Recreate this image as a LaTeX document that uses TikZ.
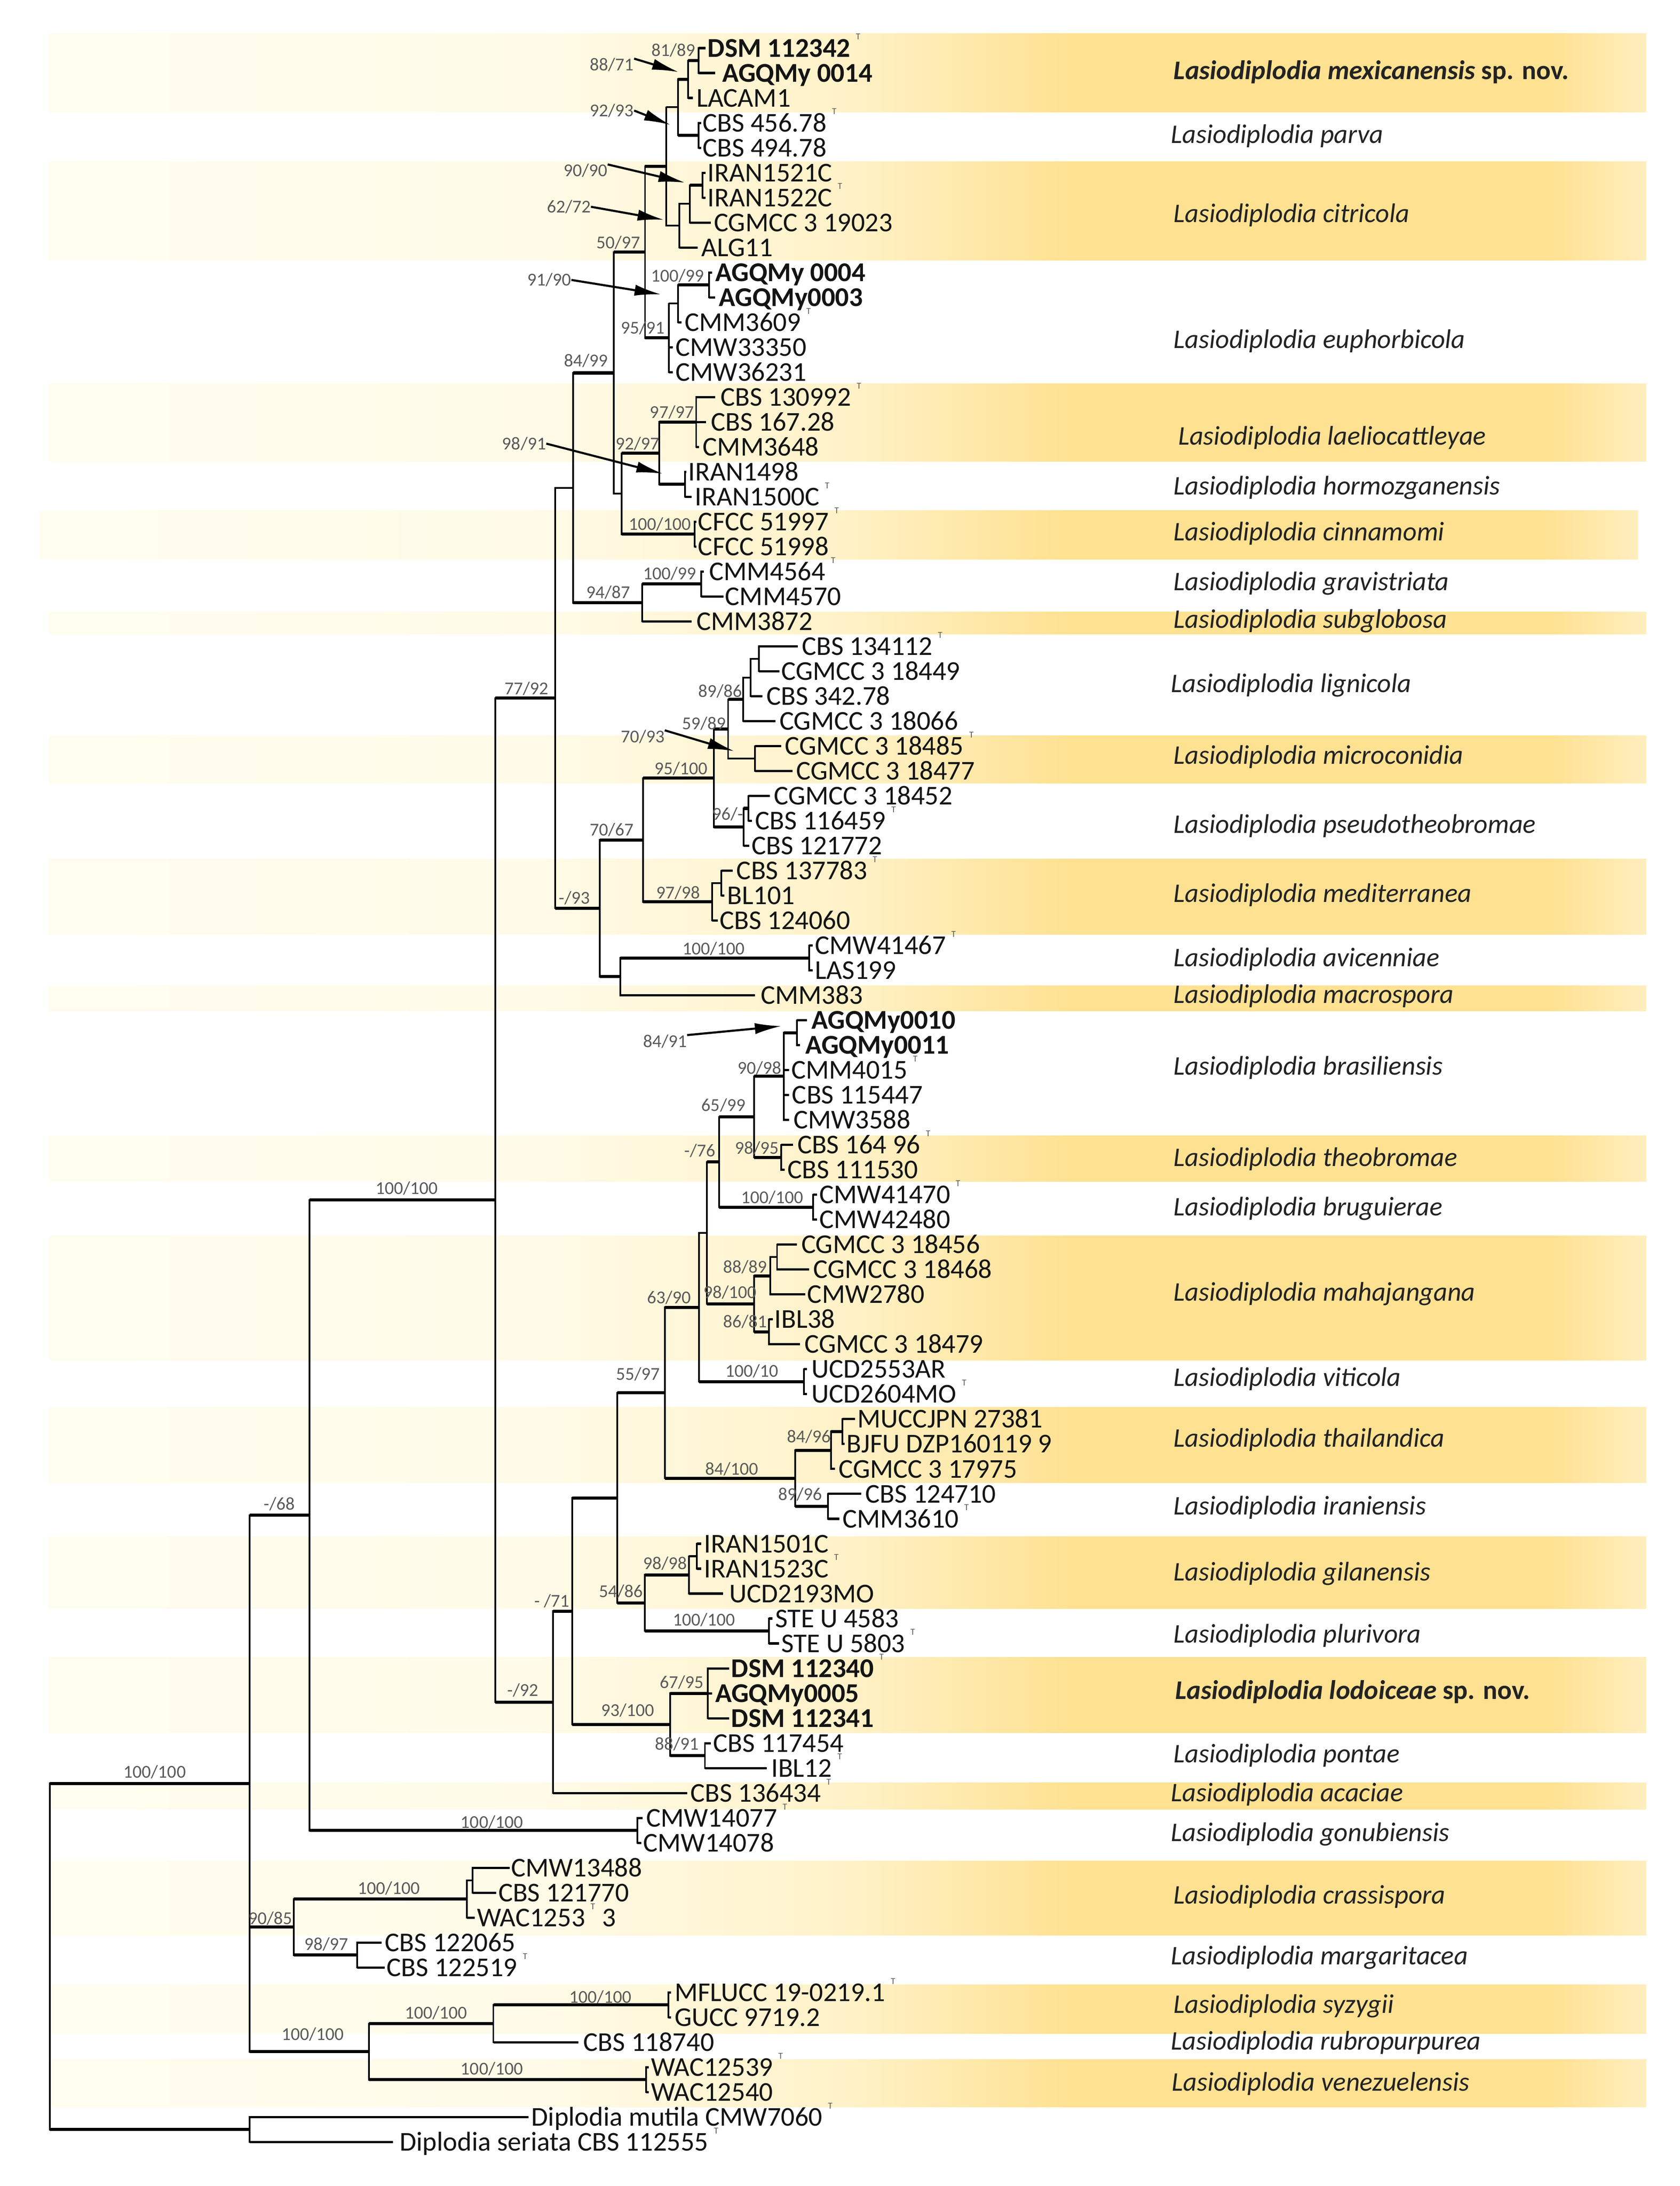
\documentclass[tikz,border=0pt]{standalone}
\usepackage{fontspec}
\setmainfont{Carlito}
\usetikzlibrary{arrows.meta}
\definecolor{leafc}{RGB}{20,20,20}
\definecolor{spcol}{RGB}{35,35,35}
\definecolor{supc}{RGB}{90,90,90}
\definecolor{bpale}{RGB}{255,253,240}
\definecolor{bpale2}{RGB}{255,251,232}
\definecolor{bmid}{RGB}{255,242,200}
\definecolor{bgold}{RGB}{254,225,145}
\definecolor{blight}{RGB}{255,238,190}
\pgfdeclarehorizontalshading{bandsh}{100bp}{color(0bp)=(bpale); color(25bp)=(bpale); color(40bp)=(bpale2); color(50bp)=(bmid); color(57bp)=(bgold); color(72bp)=(bgold); color(75bp)=(blight); color(100bp)=(blight)}
\pgfmathdeclarefunction{rowy}{1}{\pgfmathparse{34.5+17.88*#1}}
\newcommand\Tm{\hspace{4pt}\raisebox{12.3pt}{\fontsize{6.5}{6.5}\selectfont\color{supc}T}}
\newcommand\vb[3]{\draw[vline] (#1 |- #2) -- (#1 |- #3);}
\newcommand\hb[3][hleaf]{\draw[#1] (#2 |- #3) -- (#3);}
\newcommand\leaf[4]{\coordinate (l#1) at (#2,{rowy(#1)}); \node[leaf] (t#1) at (#3,{rowy(#1)}) {#4};}
\newcommand\inode[3]{\coordinate (#1) at (#2,{rowy(#3)});}
\tikzset{
 vline/.style={line width=1.2pt, line cap=rect},
 hleaf/.style={line width=1.6pt},
 hthin/.style={line width=1.3pt},
 hthick/.style={line width=2.2pt},
 leaf/.style={anchor=west, inner sep=0pt, text=leafc, font=\fontsize{19.5}{20}\selectfont, text height=12.6pt, text depth=0pt},
 spc/.style={anchor=west, inner sep=0pt, text=spcol, font=\fontsize{19.3}{20}\selectfont\itshape, text height=12.4pt, text depth=0pt},
 sup/.style={inner sep=0pt, text=supc, font=\fontsize{13}{13}\selectfont, text height=8.5pt, text depth=0pt},
 arr/.style={line width=1.5pt, -{Latex[length=19pt,width=8pt]}},
 band/.style={shading=bandsh}
}
\begin{document}
\begin{tikzpicture}[x={(1pt,0)},y={(0,-1pt)}]
\useasboundingbox (0,0) rectangle (1205,1568);
\fill[white] (0,0) rectangle (1205,1568);
% ---------- bands ----------
\shade[band] (35,23.9) rectangle (1181,80.3);
\shade[band] (35,115.8) rectangle (1181,186.9);
\shade[band] (35,275.1) rectangle (1181,330.9);
\shade[band] (28,366.1) rectangle (1175,401.4);
\shade[band] (35,438.8) rectangle (1181,455);
\shade[band] (35,527.5) rectangle (1181,561.9);
\shade[band] (35,616) rectangle (1181,670.3);
\shade[band] (35,707.1) rectangle (1181,725.2);
\shade[band] (35,814.5) rectangle (1181,847.4);
\shade[band] (35,886.4) rectangle (1181,975.7);
\shade[band] (35,1009.3) rectangle (1181,1063.6);
\shade[band] (35,1102) rectangle (1181,1153.8);
\shade[band] (35,1188.8) rectangle (1181,1243);
\shade[band] (35,1278.6) rectangle (1181,1297.8);
\shade[band] (35,1334.9) rectangle (1181,1388);
\shade[band] (35,1423.6) rectangle (1181,1458.6);
\shade[band] (35,1477.1) rectangle (1181,1511.4);
% ---------- leaves ----------
\leaf{0}{506}{507.5}{\textbf{DSM 112342}\Tm}
\leaf{1}{513}{518}{\textbf{AGQMy 0014}}
\leaf{2}{497}{499.4}{LACAM1}
\leaf{3}{503}{504}{CBS 456.78\Tm}
\leaf{4}{503}{504}{CBS 494.78}
\leaf{5}{506}{507.5}{IRAN1521C}
\leaf{6}{506}{507.5}{IRAN1522C\Tm}
\leaf{7}{509.8}{512}{CGMCC 3 19023}
\leaf{8}{500.6}{503}{ALG11}
\leaf{9}{511}{513}{\textbf{AGQMy 0004}}
\leaf{10}{513}{515.5}{\textbf{AGQMy0003}}
\leaf{11}{489}{491}{CMM3609\Tm}
\leaf{12}{482.5}{484.5}{CMW33350}
\leaf{13}{482.5}{484.5}{CMW36231}
\leaf{14}{513}{516.7}{CBS 130992\Tm}
\leaf{15}{506.5}{509.8}{CBS 167.28}
\leaf{16}{501.5}{504}{CMM3648}
\leaf{17}{492.5}{493.7}{IRAN1498}
\leaf{18}{496}{498.3}{IRAN1500C\Tm}
\leaf{19}{499.5}{500.6}{CFCC 51997\Tm}
\leaf{20}{499.5}{500.6}{CFCC 51998}
\leaf{21}{505}{508.6}{CMM4564\Tm}
\leaf{22}{519}{520}{CMM4570}
\leaf{23}{496}{499.4}{CMM3872}
\leaf{24}{572.4}{575}{CBS 134112\Tm}
\leaf{25}{559}{560.4}{CGMCC 3 18449}
\leaf{26}{547}{549.6}{CBS 342.78}
\leaf{27}{556.3}{559}{CGMCC 3 18066}
\leaf{28}{560.4}{563}{CGMCC 3 18485\Tm}
\leaf{29}{568.4}{571}{CGMCC 3 18477}
\leaf{30}{552.3}{555}{CGMCC 3 18452}
\leaf{31}{539.5}{541.6}{CBS 116459\Tm}
\leaf{32}{537.5}{538.9}{CBS 121772}
\leaf{33}{525.5}{528.2}{CBS 137783\Tm}
\leaf{34}{519.5}{521.5}{BL101}
\leaf{35}{514.8}{516}{CBS 124060}
\leaf{36}{583}{584.5}{CMW41467\Tm}
\leaf{37}{583}{584.5}{LAS199}
\leaf{38}{541.6}{545.6}{CMM383}
\leaf{39}{579}{582}{\textbf{AGQMy0010}}
\leaf{40}{574}{577.5}{\textbf{AGQMy0011}}
\leaf{41}{566}{567.5}{CMM4015\Tm}
\leaf{42}{566}{568}{CBS 115447}
\leaf{43}{566}{569}{CMW3588}
\leaf{44}{569}{571.8}{CBS 164 96\Tm}
\leaf{45}{563}{564.6}{CBS 111530}
\leaf{46}{586}{587.6}{CMW41470\Tm}
\leaf{47}{586}{587.6}{CMW42480}
\leaf{48}{571.8}{574.7}{CGMCC 3 18456}
\leaf{49}{580.4}{583.3}{CGMCC 3 18468}
\leaf{50}{577.5}{579}{CMW2780}
\leaf{51}{554.5}{555.4}{IBL38}
\leaf{52}{574}{577}{CGMCC 3 18479}
\leaf{53}{579}{581.9}{UCD2553AR}
\leaf{54}{579}{581.9}{UCD2604MO\Tm}
\leaf{55}{613.5}{614.9}{MUCCJPN 27381}
\leaf{56}{606}{607.1}{BJFU DZP160119 9}
\leaf{57}{599}{601.4}{CGMCC 3 17975}
\leaf{58}{617.8}{620.6}{CBS 124710}
\leaf{59}{602}{604.3}{CMM3610\Tm}
\leaf{60}{503}{504.9}{IRAN1501C}
\leaf{61}{503}{504.9}{IRAN1523C\Tm}
\leaf{62}{518.6}{523}{UCD2193MO}
\leaf{63}{554}{556}{STE U 4583}
\leaf{64}{558.9}{560.3}{STE U 5803\Tm}
\leaf{65}{523}{524.4}{\textbf{DSM 112340}\Tm}
\leaf{66}{511}{512.9}{\textbf{AGQMy0005}}
\leaf{67}{523}{524.4}{\textbf{DSM 112341}}
\leaf{68}{510}{511.5}{CBS 117454}
\leaf{69}{550.2}{553.1}{IBL12\Tm}
\leaf{70}{493}{495}{CBS 136434\Tm}
\leaf{71}{461}{463.4}{CMW14077\Tm}
\leaf{72}{460}{461.3}{CMW14078}
\leaf{73}{365.7}{366.5}{CMW13488}
\leaf{74}{356}{357.3}{CBS 121770}
\leaf{75}{340.5}{342}{WAC1253\Tm\hspace{5pt}3}
\leaf{76}{273.8}{276}{CBS 122065}
\leaf{77}{276}{277.2}{CBS 122519\Tm}
\leaf{78}{481.5}{483.7}{MFLUCC 19-0219.1\Tm}
\leaf{79}{481.5}{483.7}{GUCC 9719.2}
\leaf{80}{415}{418.4}{CBS 118740}
\leaf{81}{465.5}{466.8}{WAC12539\Tm}
\leaf{82}{465.5}{466.8}{WAC12540}
\leaf{83}{379}{381}{Diplodia mutila CMW7060\Tm}
\leaf{84}{282}{286.5}{Diplodia seriata CBS 112555\Tm}
% ---------- internal nodes ----------
\inode{nDA}{501}{0.5}
\inode{nMex}{493.7}{1.25}
\inode{nPar}{501}{3.5}
\inode{nMP}{486.3}{2.375}
\inode{nIR}{504}{5.5}
\inode{nIRb}{494.8}{6.25}
\inode{nCit}{487.2}{7.125}
\inode{nUp}{478}{4.75}
\inode{nAG}{508.6}{9.5}
\inode{nAGb}{486.3}{10.25}
\inode{nEup}{479.9}{11.625}
\inode{nFty}{462.7}{8.1875}
\inode{nLae}{499.4}{15}
\inode{nHor}{491.4}{17.5}
\inode{nLH}{473}{16.25}
\inode{nCin}{498.3}{19.5}
\inode{nLHC}{445.9}{17.875}
\inode{nEF}{440.4}{13.03125}
\inode{nGrav}{502.9}{21.5}
\inode{nGS}{460.8}{22.25}
\inode{nA}{411}{17.640625}
\inode{nCB}{544.3}{24.5}
\inode{nCBb}{538.4}{25.25}
\inode{nEN}{533}{26.125}
\inode{nMic}{541.6}{28.5}
\inode{nFN}{522.3}{27.3125}
\inode{nPs}{537}{30.5}
\inode{nPsb}{533.5}{31.25}
\inode{nNF}{512.1}{29.28125}
\inode{nMed}{517.5}{33.5}
\inode{nMedb}{510.8}{34.25}
\inode{nSS}{461.2}{31.765625}
\inode{nAvi}{580.5}{36.5}
\inode{nAM}{445.1}{37.25}
\inode{nNT}{430.3}{34.5078}
\inode{nSSb}{398.3}{26.0742}
\inode{nAGc}{571.8}{39.5}
\inode{nBra}{562.3}{41.25}
\inode{nThe}{560.3}{44.5}
\inode{nSF}{541}{42.875}
\inode{nBru}{583.3}{46.5}
\inode{nSx}{515.8}{44.6875}
\inode{nMa}{557.4}{48.5}
\inode{nMab}{552.5}{49.25}
\inode{nMac}{551.7}{51.5}
\inode{nMah}{541}{50.375}
\inode{nFive}{507.2}{47.53125}
\inode{nUcd}{576.7}{53.5}
\inode{nSix}{501.4}{50.515625}
\inode{nMB}{604.3}{55.5}
\inode{nTha}{596.2}{56.25}
\inode{nIra}{593.9}{58.5}
\inode{nTI}{570.4}{57.375}
\inode{nFF}{477}{53.9453}
\inode{nGi}{500}{60.5}
\inode{nGil}{494.2}{61.25}
\inode{nPlu}{551.7}{63.5}
\inode{nGP}{462.6}{62.375}
\inode{nFour}{442.7}{58.1602}
\inode{nLod}{507.7}{66}
\inode{nPon}{505.7}{68.5}
\inode{nLP}{480.7}{67.25}
\inode{nSO}{410.6}{62.7051}
\inode{nNTb}{396.8}{66.3525}
\inode{nMain}{355.4}{46.2134}
\inode{nGon}{457.1}{71.5}
\inode{nSE}{222.1}{58.8567}
\inode{nCr}{339.1}{73.5}
\inode{nCra}{335}{74.25}
\inode{nMar}{256.2}{76.5}
\inode{nNE}{210.7}{75.375}
\inode{nSyz}{479.4}{78.5}
\inode{nSR}{353.9}{79.25}
\inode{nVen}{463.4}{81.5}
\inode{nBot}{264.6}{80.375}
\inode{nIng}{179}{69.6159}
\inode{nOut}{179}{83.5}
\inode{nRoot}{35.8}{76.558}
% ---------- branches ----------
\vb{nDA}{l0}{l1}\hb{nDA}{l0}\hb{nDA}{l1}
\vb{nMex}{nDA}{l2}\hb[hthick]{nMex}{nDA}\hb{nMex}{l2}
\vb{nPar}{l3}{l4}\hb{nPar}{l3}\hb{nPar}{l4}
\vb{nMP}{nMex}{nPar}\hb[hthick]{nMP}{nMex}\hb[hthick]{nMP}{nPar}
\vb{nIR}{l5}{l6}\hb{nIR}{l5}\hb{nIR}{l6}
\vb{nIRb}{nIR}{l7}\hb[hthick]{nIRb}{nIR}\hb{nIRb}{l7}
\vb{nCit}{nIRb}{l8}\hb[hthin]{nCit}{nIRb}\hb{nCit}{l8}
\vb{nUp}{nMP}{nCit}\hb[hthin]{nUp}{nMP}\hb[hthin]{nUp}{nCit}
\vb{nAG}{l9}{l10}\hb{nAG}{l9}\hb{nAG}{l10}
\vb{nAGb}{nAG}{l11}\hb[hthick]{nAGb}{nAG}\hb{nAGb}{l11}
\vb{nEup}{nAGb}{l13}\hb[hthin]{nEup}{nAGb}\hb{nEup}{l12}\hb{nEup}{l13}
\vb{nFty}{nUp}{nEup}\hb[hthick]{nFty}{nUp}\hb[hthick]{nFty}{nEup}
\vb{nLae}{l14}{l16}\hb{nLae}{l14}\hb{nLae}{l15}\hb{nLae}{l16}
\vb{nHor}{l17}{l18}\hb{nHor}{l17}\hb{nHor}{l18}
\vb{nLH}{nLae}{nHor}\hb[hthick]{nLH}{nLae}\hb[hthick]{nLH}{nHor}
\vb{nCin}{l19}{l20}\hb{nCin}{l19}\hb{nCin}{l20}
\vb{nLHC}{nLH}{nCin}\hb[hthick]{nLHC}{nLH}\hb[hthick]{nLHC}{nCin}
\vb{nEF}{nFty}{nLHC}\hb[hthick]{nEF}{nFty}\hb[hthin]{nEF}{nLHC}
\vb{nGrav}{l21}{l22}\hb{nGrav}{l21}\hb{nGrav}{l22}
\vb{nGS}{nGrav}{l23}\hb[hthick]{nGS}{nGrav}\hb{nGS}{l23}
\vb{nA}{nEF}{nGS}\hb[hthick]{nA}{nEF}\hb[hthick]{nA}{nGS}
\vb{nCB}{l24}{l25}\hb{nCB}{l24}\hb{nCB}{l25}
\vb{nCBb}{nCB}{l26}\hb[hthin]{nCBb}{nCB}\hb{nCBb}{l26}
\vb{nEN}{nCBb}{l27}\hb[hthin]{nEN}{nCBb}\hb{nEN}{l27}
\vb{nMic}{l28}{l29}\hb{nMic}{l28}\hb{nMic}{l29}
\vb{nFN}{nEN}{nMic}\hb[hthick]{nFN}{nEN}\hb[hthin]{nFN}{nMic}
\vb{nPs}{l30}{l31}\hb{nPs}{l30}\hb{nPs}{l31}
\vb{nPsb}{nPs}{l32}\hb[hthick]{nPsb}{nPs}\hb{nPsb}{l32}
\vb{nNF}{nFN}{nPsb}\hb[hthick]{nNF}{nFN}\hb[hthick]{nNF}{nPsb}
\vb{nMed}{l33}{l34}\hb{nMed}{l33}\hb{nMed}{l34}
\vb{nMedb}{nMed}{l35}\hb[hthin]{nMedb}{nMed}\hb{nMedb}{l35}
\vb{nSS}{nNF}{nMedb}\hb[hthick]{nSS}{nNF}\hb[hthick]{nSS}{nMedb}
\vb{nAvi}{l36}{l37}\hb{nAvi}{l36}\hb{nAvi}{l37}
\vb{nAM}{nAvi}{l38}\hb[hthick]{nAM}{nAvi}\hb{nAM}{l38}
\vb{nNT}{nSS}{nAM}\hb[hthick]{nNT}{nSS}\hb[hthick]{nNT}{nAM}
\vb{nSSb}{nA}{nNT}\hb[hthin]{nSSb}{nA}\hb[hthick]{nSSb}{nNT}
\vb{nAGc}{l39}{l40}\hb{nAGc}{l39}\hb{nAGc}{l40}
\vb{nBra}{nAGc}{l43}\hb[hthick]{nBra}{nAGc}\hb{nBra}{l41}\hb{nBra}{l42}\hb{nBra}{l43}
\vb{nThe}{l44}{l45}\hb{nThe}{l44}\hb{nThe}{l45}
\vb{nSF}{nBra}{nThe}\hb[hthick]{nSF}{nBra}\hb[hthick]{nSF}{nThe}
\vb{nBru}{l46}{l47}\hb{nBru}{l46}\hb{nBru}{l47}
\vb{nSx}{nSF}{nBru}\hb[hthick]{nSx}{nSF}\hb[hthick]{nSx}{nBru}
\vb{nMa}{l48}{l49}\hb{nMa}{l48}\hb{nMa}{l49}
\vb{nMab}{nMa}{l50}\hb[hthin]{nMab}{nMa}\hb{nMab}{l50}
\vb{nMac}{l51}{l52}\hb{nMac}{l51}\hb{nMac}{l52}
\vb{nMah}{nMab}{nMac}\hb[hthick]{nMah}{nMab}\hb[hthick]{nMah}{nMac}
\vb{nFive}{nSx}{nMah}\hb[hthick]{nFive}{nSx}\hb[hthick]{nFive}{nMah}
\vb{nUcd}{l53}{l54}\hb{nUcd}{l53}\hb{nUcd}{l54}
\vb{nSix}{nFive}{nUcd}\hb[hthin]{nSix}{nFive}\hb[hthick]{nSix}{nUcd}
\vb{nMB}{l55}{l56}\hb{nMB}{l55}\hb{nMB}{l56}
\vb{nTha}{nMB}{l57}\hb[hthick]{nTha}{nMB}\hb{nTha}{l57}
\vb{nIra}{l58}{l59}\hb{nIra}{l58}\hb{nIra}{l59}
\vb{nTI}{nTha}{nIra}\hb[hthick]{nTI}{nTha}\hb[hthick]{nTI}{nIra}
\vb{nFF}{nSix}{nTI}\hb[hthick]{nFF}{nSix}\hb[hthick]{nFF}{nTI}
\vb{nGi}{l60}{l61}\hb{nGi}{l60}\hb{nGi}{l61}
\vb{nGil}{nGi}{l62}\hb[hthin]{nGil}{nGi}\hb{nGil}{l62}
\vb{nPlu}{l63}{l64}\hb{nPlu}{l63}\hb{nPlu}{l64}
\vb{nGP}{nGil}{nPlu}\hb[hthick]{nGP}{nGil}\hb[hthick]{nGP}{nPlu}
\vb{nFour}{nFF}{nGP}\hb[hthick]{nFour}{nFF}\hb[hthick]{nFour}{nGP}
\vb{nLod}{l65}{l67}\hb{nLod}{l65}\hb{nLod}{l66}\hb{nLod}{l67}
\vb{nPon}{l68}{l69}\hb{nPon}{l68}\hb{nPon}{l69}
\vb{nLP}{nLod}{nPon}\hb[hthick]{nLP}{nLod}\hb[hthick]{nLP}{nPon}
\vb{nSO}{nFour}{nLP}\hb[hthick]{nSO}{nFour}\hb[hthick]{nSO}{nLP}
\vb{nNTb}{nSO}{l70}\hb[hthick]{nNTb}{nSO}\hb{nNTb}{l70}
\vb{nMain}{nSSb}{nNTb}\hb[hthick]{nMain}{nSSb}\hb[hthick]{nMain}{nNTb}
\vb{nGon}{l71}{l72}\hb{nGon}{l71}\hb{nGon}{l72}
\vb{nSE}{nMain}{nGon}\hb[hthick]{nSE}{nMain}\hb[hthick]{nSE}{nGon}
\vb{nCr}{l73}{l74}\hb{nCr}{l73}\hb{nCr}{l74}
\vb{nCra}{nCr}{l75}\hb[hthin]{nCra}{nCr}\hb{nCra}{l75}
\vb{nMar}{l76}{l77}\hb{nMar}{l76}\hb{nMar}{l77}
\vb{nNE}{nCra}{nMar}\hb[hthick]{nNE}{nCra}\hb[hthick]{nNE}{nMar}
\vb{nSyz}{l78}{l79}\hb{nSyz}{l78}\hb{nSyz}{l79}
\vb{nSR}{nSyz}{l80}\hb[hthick]{nSR}{nSyz}\hb{nSR}{l80}
\vb{nVen}{l81}{l82}\hb{nVen}{l81}\hb{nVen}{l82}
\vb{nBot}{nSR}{nVen}\hb[hthick]{nBot}{nSR}\hb[hthick]{nBot}{nVen}
\vb{nIng}{nSE}{nBot}\hb[hthick]{nIng}{nSE}\hb[hthick]{nIng}{nNE}\hb[hthick]{nIng}{nBot}
\vb{nOut}{l83}{l84}\hb{nOut}{l83}\hb{nOut}{l84}
\vb{nRoot}{nIng}{nOut}\hb[hthick]{nRoot}{nIng}\hb[hthick]{nRoot}{nOut}
% ---------- support values ----------
\node[sup] (s8189) at (483,36) {81/89};
\node[sup] (s8871) at (439,46.5) {88/71};
\node[sup] (s9293) at (439,79.3) {92/93};
\node[sup] (s9090) at (420,122.4) {90/90};
\node[sup] (s6272) at (408,148.3) {62/72};
\node[sup] (s5097) at (443.5,174) {50/97};
\node[sup] (s10099a) at (486,198) {100/99};
\node[sup] (s9190) at (394,200.8) {91/90};
\node[sup] (s9591) at (461,235.3) {95/91};
\node[sup] (s8499) at (420.5,258.6) {84/99};
\node[sup] (s9797) at (482,295.8) {97/97};
\node[sup] (s9891) at (376,318.2) {98/91};
\node[sup] (s9297) at (457.5,318.2) {92/97};
\node[sup] (s100cin) at (473.5,376) {100/100};
\node[sup] (s10099b) at (480.5,411.3) {100/99};
\node[sup] (s9487) at (436.5,425) {94/87};
\node[sup] (s7792) at (377.6,494) {77/92};
\node[sup] (s8986) at (516.7,495.8) {89/86};
\node[sup] (s5989) at (505,519) {59/89};
\node[sup] (s7093) at (461,528.3) {70/93};
\node[sup] (s95100) at (488.6,551.3) {95/100};
\node[sup] (s96) at (522,583.8) {96/-};
\node[sup] (s7067) at (439,595.3) {70/67};
\node[sup] (s9798) at (486.6,640.3) {97/98};
\node[sup] (s93) at (412,644.1) {-/93};
\node[sup] (s100avi) at (512,680.5) {100/100};
\node[sup] (s8491) at (477,746.9) {84/91};
\node[sup] (s9098) at (545,766) {90/98};
\node[sup] (s6599) at (519,792.8) {65/99};
\node[sup] (s9895) at (543,823.5) {98/95};
\node[sup] (s76) at (502,825.4) {-/76};
\node[sup] (s100bru) at (554,858.9) {100/100};
\node[sup] (s8889) at (534.4,908.7) {88/89};
\node[sup] (s98100) at (523.6,926.9) {98/100};
\node[sup] (s6390) at (480,930.7) {63/90};
\node[sup] (s8681) at (534.4,948) {86/81};
\node[sup] (s10010) at (539.5,983.4) {100/10};
\node[sup] (s5597) at (457.6,985.6) {55/97};
\node[sup] (s8496) at (580.4,1030.6) {84/96};
\node[sup] (s84100) at (525,1053.6) {84/100};
\node[sup] (s8996) at (574,1071.8) {89/96};
\node[sup] (s9898) at (477,1121.5) {98/98};
\node[sup] (s5486) at (445.4,1141.6) {54/86};
\node[sup] (s71) at (396,1148.4) {- /71};
\node[sup] (s100plu) at (505,1161.8) {100/100};
\node[sup] (s6795) at (489,1206.8) {67/95};
\node[sup] (s92) at (375,1212.5) {-/92};
\node[sup] (s93100) at (450.4,1226.9) {93/100};
\node[sup] (s8891) at (485.6,1250.8) {88/91};
\node[sup] (s100main) at (291.8,852.4) {100/100};
\node[sup] (s68) at (200.4,1078.7) {-/68};
\node[sup] (s100root) at (111,1271) {100/100};
\node[sup] (s100gon) at (352.8,1306.9) {100/100};
\node[sup] (s100cra) at (279,1354.3) {100/100};
\node[sup] (s9085) at (194,1375.9) {90/85};
\node[sup] (s9897) at (234,1394.4) {98/97};
\node[sup] (s100syz) at (430.8,1432.5) {100/100};
\node[sup] (s100sr) at (312.8,1443.9) {100/100};
\node[sup] (s100bot) at (224.4,1459.3) {100/100};
\node[sup] (s100ven) at (352.8,1484) {100/100};
% ---------- arrows ----------
\coordinate (a8871) at (486.8,51.7);
\coordinate (a9293) at (481,89.6);
\coordinate (a9090) at (491.4,131);
\coordinate (a6272) at (476.4,157.7);
\coordinate (a9190) at (474.2,211.2);
\coordinate (a9891) at (475.5,339.8);
\coordinate (a7093) at (526.8,538.8);
\coordinate (a8491) at (560.5,736);
\draw[arr] (s8871.north east) -- (a8871);
\draw[arr] (s9293.east) -- (a9293);
\draw[arr] (s9090.north east) -- (a9090);
\draw[arr] (s6272.east) -- (a6272);
\draw[arr] (s9190.east) -- (a9190);
\draw[arr] (s9891.east) -- (a9891);
\draw[arr] (s7093.north east) -- (a7093);
\draw[arr] (s8491.north east) -- (a8491);
% ---------- species ----------
\node[spc] (sp1) at (841.8,50.6) {\textbf{Lasiodiplodia mexicanensis} \textup{\textbf{sp. nov.}}};
\node[spc] (sp2) at (839.9,96.5) {Lasiodiplodia parva};
\node[spc] (sp3) at (841.8,153.2) {Lasiodiplodia citricola};
\node[spc] (sp4) at (841.8,243.6) {Lasiodiplodia euphorbicola};
\node[spc] (sp5) at (845,313) {Lasiodiplodia laeliocattleyae};
\node[spc] (sp6) at (841.8,348.7) {Lasiodiplodia hormozganensis};
\node[spc] (sp7) at (841.8,381.5) {Lasiodiplodia cinnamomi};
\node[spc] (sp8) at (841.8,417.3) {Lasiodiplodia gravistriata};
\node[spc] (sp9) at (841.8,444.3) {Lasiodiplodia subglobosa};
\node[spc] (sp10) at (839.9,490.3) {Lasiodiplodia lignicola};
\node[spc] (sp11) at (841.8,541.7) {Lasiodiplodia microconidia};
\node[spc] (sp12) at (841.8,591.3) {Lasiodiplodia pseudotheobromae};
\node[spc] (sp13) at (841.8,640.9) {Lasiodiplodia mediterranea};
\node[spc] (sp14) at (841.8,687) {Lasiodiplodia avicenniae};
\node[spc] (sp15) at (841.8,713.5) {Lasiodiplodia macrospora};
\node[spc] (sp16) at (841.8,764.9) {Lasiodiplodia brasiliensis};
\node[spc] (sp17) at (841.8,830.4) {Lasiodiplodia theobromae};
\node[spc] (sp18) at (841.8,865.9) {Lasiodiplodia bruguierae};
\node[spc] (sp19) at (841.8,926.8) {Lasiodiplodia mahajangana};
\node[spc] (sp20) at (841.8,988.1) {Lasiodiplodia viticola};
\node[spc] (sp21) at (841.8,1031.5) {Lasiodiplodia thailandica};
\node[spc] (sp22) at (841.8,1080.4) {Lasiodiplodia iraniensis};
\node[spc] (sp23) at (841.8,1127.6) {Lasiodiplodia gilanensis};
\node[spc] (sp24) at (841.8,1172) {Lasiodiplodia plurivora};
\node[spc] (sp25) at (843,1212.5) {\textbf{Lasiodiplodia lodoiceae} \textup{\textbf{sp. nov.}}};
\node[spc] (sp26) at (841.8,1258) {Lasiodiplodia pontae};
\node[spc] (sp27) at (839.9,1286) {Lasiodiplodia acaciae};
\node[spc] (sp28) at (839.9,1314.6) {Lasiodiplodia gonubiensis};
\node[spc] (sp29) at (841.8,1359.3) {Lasiodiplodia crassispora};
\node[spc] (sp30) at (839.9,1403) {Lasiodiplodia margaritacea};
\node[spc] (sp31) at (841.8,1437.6) {Lasiodiplodia syzygii};
\node[spc] (sp32) at (839.9,1464.2) {Lasiodiplodia rubropurpurea};
\node[spc] (sp33) at (840.5,1493.5) {Lasiodiplodia venezuelensis};
\end{tikzpicture}
\end{document}
